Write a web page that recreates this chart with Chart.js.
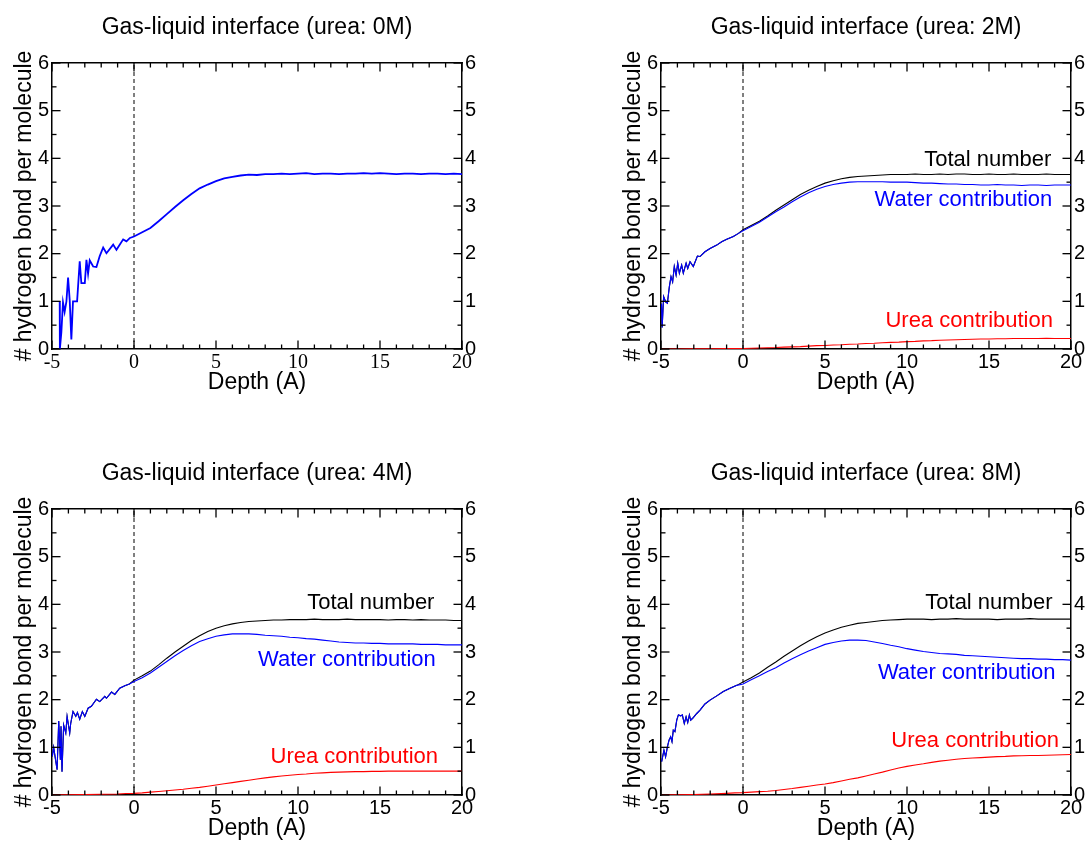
<!DOCTYPE html>
<html>
<head>
<meta charset="utf-8">
<title>Hydrogen bonds at the gas-liquid interface</title>
<script src="https://cdn.jsdelivr.net/npm/chart.js@4.4.1/dist/chart.umd.min.js"></script>
<style>
  html, body { margin: 0; padding: 0; background: #fff; overflow: hidden; }
  body { width: 1090px; height: 842px; position: relative; }
  canvas { position: absolute; }
</style>
</head>
<body>
<canvas id="c0" width="481" height="396" style="left:0;top:0"></canvas>
<canvas id="c1" width="481" height="396" style="left:609px;top:0"></canvas>
<canvas id="c2" width="481" height="396" style="left:0;top:446px"></canvas>
<canvas id="c3" width="481" height="396" style="left:609px;top:446px"></canvas>
<script>
// depth grid (A) for the smooth part of every profile
const depth = [0, 0.5, 1, 1.5, 2, 2.5, 3, 3.5, 4, 4.5, 5, 5.5, 6, 6.5, 7, 7.5, 8, 8.5, 9, 9.5,
  10, 10.5, 11, 11.5, 12, 12.5, 13, 13.5, 14, 14.5, 15, 15.5, 16, 16.5, 17, 17.5, 18, 18.5, 19, 19.5, 20];
const ureaHeadDepth = [-5, -4, -3, -2, -1, -0.5];

// tick positions: major ticks carry labels, minor ones are short marks
const xMajor = [-5, 0, 5, 10, 15, 20];
const xMinor = [-4, -3, -2, -1, 1, 2, 3, 4, 6, 7, 8, 9, 11, 12, 13, 14, 16, 17, 18, 19];
const yMajor = [0, 1, 2, 3, 4, 5, 6];
const yMinor = [0.5, 1.5, 2.5, 3.5, 4.5, 5.5];

// urea 0M
const surfDepth0 = [-4.53, -4.52, -4.43, -4.33, -4.23, -4.12, -4.02, -3.92, -3.82, -3.72, -3.47, -3.31, -3.21, -3.0,
  -2.9, -2.8, -2.7, -2.49, -2.29, -2.09, -1.88, -1.68, -1.27, -1.07, -0.66, -0.46, -0.25];
const surfWater0 = [1.0, 0.0, 0.35, 0.98, 0.78, 1.0, 1.5, 1.02, 0.2, 1.0, 1.0, 1.84, 1.38, 1.38,
  1.87, 1.58, 1.86, 1.73, 1.72, 1.95, 2.13, 2.01, 2.19, 2.08, 2.3, 2.26, 2.33];
const water0 = [2.36, 2.45, 2.54, 2.68, 2.83, 2.98, 3.12, 3.25, 3.37, 3.45, 3.52, 3.58, 3.61, 3.64, 3.66, 3.65, 3.67, 3.67, 3.68, 3.67,
  3.68, 3.69, 3.67, 3.68, 3.68, 3.67, 3.68, 3.68, 3.69, 3.68, 3.69, 3.68, 3.67, 3.68, 3.68, 3.67, 3.68, 3.68, 3.67, 3.68, 3.67];

// urea 2M
const surfDepth2 = [-4.97, -4.93, -4.84, -4.72, -4.61, -4.49, -4.39, -4.29, -4.19, -4.08, -3.98, -3.88, -3.74, -3.64,
  -3.47, -3.37, -3.23, -3.03, -2.78, -2.62, -2.32, -2.01, -1.6, -1.3, -0.99, -0.59, -0.3];
const surfWater2 = [0.95, 0.45, 1.1, 0.99, 0.96, 1.31, 1.52, 1.41, 1.73, 1.55, 1.8, 1.59, 1.76, 1.59,
  1.8, 1.69, 1.83, 1.73, 1.95, 1.94, 2.04, 2.11, 2.18, 2.25, 2.3, 2.36, 2.42];
const water2 = [2.48, 2.57, 2.66, 2.77, 2.88, 2.98, 3.09, 3.19, 3.28, 3.35, 3.41, 3.45, 3.48, 3.5, 3.51, 3.51, 3.51, 3.51, 3.5, 3.5,
  3.5, 3.49, 3.48, 3.48, 3.47, 3.46, 3.46, 3.45, 3.45, 3.44, 3.44, 3.45, 3.44, 3.44, 3.43, 3.44, 3.44, 3.43, 3.44, 3.44, 3.44];
const total2 = [2.5, 2.59, 2.68, 2.79, 2.91, 3.02, 3.13, 3.24, 3.33, 3.41, 3.48, 3.53, 3.57, 3.6, 3.62, 3.63, 3.64, 3.65, 3.66, 3.66,
  3.66, 3.67, 3.66, 3.66, 3.67, 3.66, 3.67, 3.67, 3.66, 3.66, 3.67, 3.66, 3.66, 3.67, 3.66, 3.66, 3.66, 3.67, 3.66, 3.66, 3.66];
const ureaHead2 = [0, 0, 0.005, 0.005, 0.008, 0.01];
const urea2 = [0.01, 0.015, 0.02, 0.025, 0.03, 0.04, 0.045, 0.05, 0.06, 0.07, 0.075, 0.085, 0.09, 0.1, 0.105, 0.115, 0.12, 0.13, 0.14, 0.145,
  0.155, 0.16, 0.17, 0.175, 0.185, 0.19, 0.195, 0.2, 0.205, 0.21, 0.21, 0.215, 0.215, 0.22, 0.22, 0.22, 0.22, 0.225, 0.22, 0.22, 0.22];

// urea 4M
const surfDepth4 = [-4.98, -4.9, -4.69, -4.59, -4.49, -4.45, -4.39, -4.29, -4.16, -4.08, -3.92, -3.86, -3.72, -3.55, -3.45,
  -3.31, -3.15, -3.0, -2.8, -2.6, -2.29, -2.09, -1.78, -1.68, -1.37, -1.17, -0.87, -0.56, -0.28];
const surfWater4 = [0.81, 1.0, 0.53, 1.55, 0.74, 1.44, 0.49, 1.47, 1.3, 1.65, 1.3, 1.5, 1.75, 1.65, 1.73,
  1.59, 1.75, 1.65, 1.82, 1.86, 2.01, 1.96, 2.07, 2.03, 2.16, 2.11, 2.24, 2.29, 2.33];
const water4 = [2.38, 2.46, 2.56, 2.68, 2.8, 2.92, 3.03, 3.13, 3.22, 3.28, 3.33, 3.36, 3.38, 3.38, 3.38, 3.37, 3.35, 3.34, 3.33, 3.31,
  3.3, 3.28, 3.27, 3.25, 3.23, 3.21, 3.2, 3.19, 3.19, 3.18, 3.18, 3.17, 3.17, 3.17, 3.17, 3.16, 3.16, 3.16, 3.15, 3.15, 3.15];
const total4 = [2.41, 2.5, 2.6, 2.73, 2.87, 3.0, 3.12, 3.24, 3.34, 3.43, 3.5, 3.55, 3.59, 3.62, 3.64, 3.65, 3.66, 3.67, 3.67, 3.68,
  3.68, 3.68, 3.69, 3.68, 3.68, 3.68, 3.69, 3.68, 3.68, 3.68, 3.68, 3.67, 3.68, 3.68, 3.67, 3.68, 3.67, 3.67, 3.67, 3.66, 3.66];
const ureaHead4 = [0, 0.005, 0.01, 0.015, 0.02, 0.03];
const urea4 = [0.035, 0.045, 0.06, 0.075, 0.09, 0.105, 0.12, 0.14, 0.16, 0.185, 0.21, 0.235, 0.26, 0.285, 0.31, 0.335, 0.36, 0.38, 0.4, 0.415,
  0.43, 0.44, 0.455, 0.465, 0.475, 0.48, 0.485, 0.49, 0.49, 0.495, 0.495, 0.5, 0.5, 0.5, 0.5, 0.5, 0.5, 0.5, 0.505, 0.5, 0.5];

// urea 8M
const surfDepth8 = [-4.96, -4.82, -4.72, -4.61, -4.51, -4.41, -4.33, -4.25, -4.15, -4.04, -3.94, -3.8, -3.7, -3.58,
  -3.47, -3.37, -3.27, -3.19, -3.07, -2.82, -2.62, -2.32, -2.01, -1.6, -1.2, -0.79, -0.38];
const surfWater8 = [0.7, 0.94, 0.8, 1.01, 1.15, 1.22, 1.12, 1.36, 1.33, 1.57, 1.68, 1.66, 1.68, 1.5,
  1.64, 1.52, 1.68, 1.57, 1.61, 1.71, 1.78, 1.91, 1.99, 2.08, 2.17, 2.24, 2.3];
const water8 = [2.33, 2.42, 2.5, 2.59, 2.67, 2.77, 2.86, 2.94, 3.02, 3.09, 3.16, 3.2, 3.23, 3.25, 3.25, 3.24, 3.21, 3.18, 3.14, 3.11,
  3.07, 3.04, 3.01, 2.99, 2.97, 2.96, 2.95, 2.93, 2.92, 2.91, 2.9, 2.89, 2.88, 2.87, 2.86, 2.86, 2.85, 2.85, 2.84, 2.84, 2.83];
const total8 = [2.37, 2.46, 2.56, 2.68, 2.79, 2.91, 3.02, 3.13, 3.23, 3.32, 3.4, 3.46, 3.52, 3.56, 3.6, 3.62, 3.64, 3.66, 3.67, 3.68,
  3.69, 3.69, 3.69, 3.68, 3.69, 3.69, 3.7, 3.69, 3.69, 3.69, 3.69, 3.68, 3.69, 3.69, 3.69, 3.7, 3.69, 3.69, 3.69, 3.69, 3.69];
const ureaHead8 = [0, 0.005, 0.01, 0.02, 0.035, 0.045];
const urea8 = [0.05, 0.06, 0.07, 0.08, 0.095, 0.115, 0.135, 0.16, 0.185, 0.21, 0.23, 0.26, 0.295, 0.33, 0.36, 0.4, 0.44, 0.48, 0.525, 0.565,
  0.6, 0.63, 0.655, 0.685, 0.71, 0.73, 0.75, 0.765, 0.775, 0.785, 0.795, 0.805, 0.81, 0.82, 0.825, 0.83, 0.83, 0.835, 0.84, 0.845, 0.85];

const BLUE = '#0000ff';
const RED = '#ff0000';
const BLACK = '#000000';
const SANS = '"Liberation Sans", Arial, sans-serif';
const SERIF = '"Liberation Serif", "Times New Roman", serif';

Chart.defaults.font.family = SANS;
Chart.defaults.color = BLACK;

function join(headX, headY, bodyY) {
  return headY.map((v, i) => ({ x: headX[i], y: v }))
    .concat(bodyY.map((v, i) => ({ x: depth[i], y: v })));
}

function line(data, color, width) {
  return { data, borderColor: color, borderWidth: width, pointRadius: 0, tension: 0, fill: false };
}

const panels = [
  {
    id: 'c0', title: 'Gas-liquid interface (urea: 0M)', xFont: SERIF,
    series: [line(join(surfDepth0, surfWater0, water0), BLUE, 1.8)],
    notes: []
  },
  {
    id: 'c1', title: 'Gas-liquid interface (urea: 2M)', xFont: SANS,
    series: [
      line(join(surfDepth2, surfWater2, water2), BLUE, 1.1),
      line(join(surfDepth2, surfWater2, total2), BLACK, 1.1),
      line(join(ureaHeadDepth, ureaHead2, urea2), RED, 1.1)
    ],
    notes: [
      { text: 'Total number', color: BLACK, x: 18.8, y: 3.97 },
      { text: 'Water contribution', color: BLUE, x: 18.86, y: 3.13 },
      { text: 'Urea contribution', color: RED, x: 18.9, y: 0.59 }
    ]
  },
  {
    id: 'c2', title: 'Gas-liquid interface (urea: 4M)', xFont: SANS,
    series: [
      line(join(surfDepth4, surfWater4, water4), BLUE, 1.1),
      line(join(surfDepth4, surfWater4, total4), BLACK, 1.1),
      line(join(ureaHeadDepth, ureaHead4, urea4), RED, 1.1)
    ],
    notes: [
      { text: 'Total number', color: BLACK, x: 18.32, y: 4.03 },
      { text: 'Water contribution', color: BLUE, x: 18.4, y: 2.84 },
      { text: 'Urea contribution', color: RED, x: 18.54, y: 0.79 }
    ]
  },
  {
    id: 'c3', title: 'Gas-liquid interface (urea: 8M)', xFont: SANS,
    series: [
      line(join(surfDepth8, surfWater8, water8), BLUE, 1.1),
      line(join(surfDepth8, surfWater8, total8), BLACK, 1.1),
      line(join(ureaHeadDepth, ureaHead8, urea8), RED, 1.1)
    ],
    notes: [
      { text: 'Total number', color: BLACK, x: 18.87, y: 4.03 },
      { text: 'Water contribution', color: BLUE, x: 19.06, y: 2.56 },
      { text: 'Urea contribution', color: RED, x: 19.26, y: 1.14 }
    ]
  }
];

// inward tick marks on all four sides, then the coloured labels
const overlay = {
  id: 'overlay',
  afterDatasetsDraw(chart, args, opts) {
    const { ctx, chartArea: a, scales } = chart;
    const w = 1.3;
    ctx.save();
    ctx.fillStyle = BLACK;
    const xMark = (v, len) => {
      const p = scales.x.getPixelForValue(v) - w / 2;
      ctx.fillRect(p, a.bottom - len, w, len);
      ctx.fillRect(p, a.top, w, len);
    };
    const yMark = (v, len) => {
      const p = scales.y.getPixelForValue(v) - w / 2;
      ctx.fillRect(a.left, p, len, w);
      ctx.fillRect(a.right - len, p, len, w);
    };
    xMajor.forEach(v => xMark(v, 8.5));
    xMinor.forEach(v => xMark(v, 4.5));
    yMajor.forEach(v => yMark(v, 8.5));
    yMinor.forEach(v => yMark(v, 4.5));

    ctx.font = '22px ' + SANS;
    ctx.textAlign = 'right';
    ctx.textBaseline = 'middle';
    for (const n of opts.items || []) {
      ctx.fillStyle = n.color;
      ctx.fillText(n.text, scales.x.getPixelForValue(n.x), scales.y.getPixelForValue(n.y));
    }
    ctx.restore();
  }
};

function axis(position, min, max, step, size, extra) {
  return Object.assign({
    type: 'linear', position, min, max,
    ticks: { stepSize: step, display: false, autoSkip: false },
    grid: { display: false, drawTicks: false },
    border: { display: true, color: BLACK, width: 1.5 },
    afterFit(scale) {
      if (scale.isHorizontal()) scale.height = size; else scale.width = size;
    }
  }, extra || {});
}

function labelTicks(font, step, padding) {
  return { stepSize: step, display: true, padding, autoSkip: false, maxRotation: 0,
    color: BLACK, font: { family: font, size: 20 } };
}

for (const p of panels) {
  const scales = {
    x: axis('bottom', -5, 20, 5, 47, {
      ticks: labelTicks(p.xFont, 5, 1.5),
      title: { display: true, text: 'Depth (A)', color: BLACK, font: { size: 23 }, padding: 0 }
    }),
    xTop: axis('top', -5, 20, 5, 0),
    y: axis('left', 0, 6, 1, 52, {
      ticks: labelTicks(SANS, 1, 3),
      title: { display: true, text: '# hydrogen bond per molecule', color: BLACK, font: { size: 23 }, padding: { top: 11, bottom: 0 } }
    }),
    yRight: axis('right', 0, 6, 1, 19, {
      ticks: labelTicks(SANS, 1, 3)
    })
  };

  const datasets = p.series.concat([{
    data: [{ x: 0, y: 0 }, { x: 0, y: 6 }],
    borderColor: BLACK, borderWidth: 1, borderDash: [4, 3], pointRadius: 0
  }]);

  new Chart(document.getElementById(p.id), {
    type: 'line',
    data: { datasets },
    options: {
      responsive: false,
      animation: false,
      layout: { padding: 0 },
      scales,
      plugins: {
        legend: { display: false },
        tooltip: { enabled: false },
        title: {
          display: true, text: p.title, color: BLACK, fullSize: false,
          font: { size: 23, weight: 'normal' }, padding: { top: 14.2, bottom: 21.2 }
        },
        overlay: { items: p.notes }
      }
    },
    plugins: [overlay]
  });
}
</script>
</body>
</html>
